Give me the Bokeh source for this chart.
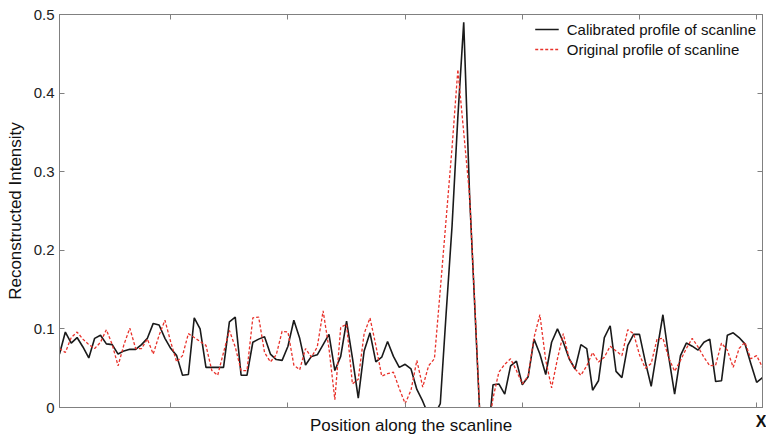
from bokeh.plotting import figure
from bokeh.models import Range1d, LinearAxis, FixedTicker, Legend, LegendItem
from bokeh.embed import file_html
from bokeh.resources import INLINE

positions = list(range(1, 122))

calibrated = [
    0.068, 0.096, 0.082, 0.089, 0.077, 0.063, 0.088, 0.092, 0.081, 0.080,
    0.068, 0.072, 0.074, 0.074, 0.080, 0.088, 0.107, 0.105, 0.088, 0.075,
    0.066, 0.041, 0.042, 0.114, 0.100, 0.051, 0.051, 0.051, 0.051, 0.109,
    0.115, 0.041, 0.041, 0.083, 0.087, 0.090, 0.068, 0.061, 0.060, 0.078,
    0.111, 0.088, 0.054, 0.065, 0.067, 0.080, 0.093, 0.047, 0.065, 0.110,
    0.063, 0.012, 0.072, 0.095, 0.058, 0.064, 0.084, 0.065, 0.051, 0.055,
    0.049, 0.023, 0.008, -0.010, -0.010, 0.005, 0.120, 0.230, 0.370, 0.490,
    0.270, 0.110, -0.050, -0.050, 0.029, 0.030, 0.017, 0.053, 0.059, 0.029,
    0.039, 0.087, 0.068, 0.042, 0.083, 0.100, 0.083, 0.062, 0.049, 0.080,
    0.075, 0.022, 0.034, 0.089, 0.104, 0.046, 0.038, 0.079, 0.093, 0.093,
    0.058, 0.027, 0.073, 0.118, 0.064, 0.017, 0.066, 0.082, 0.078, 0.073,
    0.083, 0.087, 0.033, 0.034, 0.092, 0.095, 0.089, 0.081, 0.056, 0.032,
    0.038,
]

original = [
    0.075, 0.070, 0.089, 0.096, 0.087, 0.080, 0.075, 0.083, 0.099, 0.080,
    0.053, 0.080, 0.101, 0.075, 0.075, 0.087, 0.068, 0.092, 0.111, 0.083,
    0.058, 0.066, 0.094, 0.089, 0.084, 0.079, 0.047, 0.041, 0.070, 0.098,
    0.077, 0.047, 0.047, 0.114, 0.115, 0.070, 0.058, 0.067, 0.097, 0.096,
    0.054, 0.048, 0.075, 0.064, 0.077, 0.123, 0.075, 0.010, 0.102, 0.106,
    0.030, 0.036, 0.094, 0.114, 0.079, 0.040, 0.043, 0.045, 0.024, 0.005,
    0.022, 0.060, 0.026, 0.053, 0.062, 0.150, 0.240, 0.330, 0.430, 0.350,
    0.270, 0.114, -0.050, -0.040, 0.012, 0.045, 0.055, 0.062, 0.047, 0.030,
    0.040, 0.089, 0.118, 0.060, 0.025, 0.062, 0.094, 0.062, 0.049, 0.041,
    0.053, 0.070, 0.058, 0.064, 0.078, 0.072, 0.066, 0.099, 0.094, 0.067,
    0.050, 0.056, 0.087, 0.088, 0.063, 0.046, 0.060, 0.075, 0.088, 0.077,
    0.064, 0.053, 0.054, 0.082, 0.073, 0.051, 0.075, 0.083, 0.062, 0.066,
    0.051,
]

x_ticks = [20, 40, 60, 80, 100, 120]
x_end = 121
x_end_label = "X"
y_ticks = [0, 0.1, 0.2, 0.3, 0.4, 0.5]
y_tick_labels = {0: "0", 0.1: "0.1", 0.2: "0.2", 0.3: "0.3", 0.4: "0.4", 0.5: "0.5"}

FONT = "Liberation Sans"
AXIS_COLOR = "#808080"

p = figure(width=766, height=437, output_backend="svg", toolbar_location=None,
           x_range=Range1d(1, 121), y_range=Range1d(0, 0.5),
           min_border_left=59, min_border_right=4, min_border_top=14, min_border_bottom=30)
p.background_fill_color = "white"
p.border_fill_color = "white"
p.outline_line_color = AXIS_COLOR
p.xgrid.visible = False
p.ygrid.visible = False

blank_x = {t: "" for t in x_ticks}
blank_y = {t: "" for t in y_ticks}
bottom_labels = dict(blank_x)
bottom_labels[x_end] = x_end_label

# bottom axis (only the end marker "X" is labelled)
xa = p.xaxis[0]
xa.ticker = FixedTicker(ticks=x_ticks + [x_end])
xa.major_label_overrides = bottom_labels
xa.major_label_text_font = FONT
xa.major_label_text_font_size = "16px"
xa.major_label_text_font_style = "bold"
xa.major_label_text_color = "#111111"
xa.major_label_standoff = 5
xa.major_tick_in = 5
xa.major_tick_out = 0
xa.minor_tick_line_color = None
xa.axis_line_color = AXIS_COLOR
xa.major_tick_line_color = AXIS_COLOR
xa.axis_label = "Position along the scanline"
xa.axis_label_text_font = FONT
xa.axis_label_text_font_size = "17px"
xa.axis_label_text_font_style = "normal"
xa.axis_label_text_color = "#111111"
xa.axis_label_standoff = -17

# left axis
ya = p.yaxis[0]
ya.ticker = FixedTicker(ticks=y_ticks)
ya.major_label_overrides = y_tick_labels
ya.major_label_text_font = FONT
ya.major_label_text_font_size = "15px"
ya.major_label_text_color = "#222222"
ya.major_label_standoff = 5
ya.major_tick_in = 5
ya.major_tick_out = 0
ya.minor_tick_line_color = None
ya.axis_line_color = AXIS_COLOR
ya.major_tick_line_color = AXIS_COLOR
ya.axis_label = "Reconstructed Intensity"
ya.axis_label_text_font = FONT
ya.axis_label_text_font_size = "17px"
ya.axis_label_text_font_style = "normal"
ya.axis_label_text_color = "#111111"
ya.axis_label_standoff = 6

# top and right axes (ticks only)
top = LinearAxis(ticker=FixedTicker(ticks=x_ticks), major_label_overrides=blank_x,
                 major_label_text_font_size="2px",
                 major_label_standoff=0, major_tick_in=5, major_tick_out=0,
                 minor_tick_line_color=None, axis_line_color=AXIS_COLOR,
                 major_tick_line_color=AXIS_COLOR)
p.add_layout(top, "above")
right = LinearAxis(ticker=FixedTicker(ticks=y_ticks), major_label_overrides=blank_y,
                   major_label_text_font_size="2px",
                   major_label_standoff=0, major_tick_in=5, major_tick_out=0,
                   minor_tick_line_color=None, axis_line_color=AXIS_COLOR,
                   major_tick_line_color=AXIS_COLOR)
p.add_layout(right, "right")

r1 = p.line(positions, calibrated, line_color="#1a1a1a", line_width=1.6)
r2 = p.line(positions, original, line_color="#e8322b", line_width=1.3, line_dash="3 2")

legend = Legend(items=[LegendItem(label="Calibrated profile of scanline", renderers=[r1]),
                       LegendItem(label="Original profile of scanline", renderers=[r2])],
                location="top_right")
legend.border_line_color = None
legend.background_fill_alpha = 0
legend.label_text_font = FONT
legend.label_text_font_size = "15px"
legend.label_text_color = "#111111"
legend.glyph_width = 24
legend.glyph_height = 18
legend.label_standoff = 8
legend.spacing = 2
legend.padding = 4
legend.margin = 6
p.add_layout(legend)

open("out.html", "w").write(file_html(p, INLINE))
